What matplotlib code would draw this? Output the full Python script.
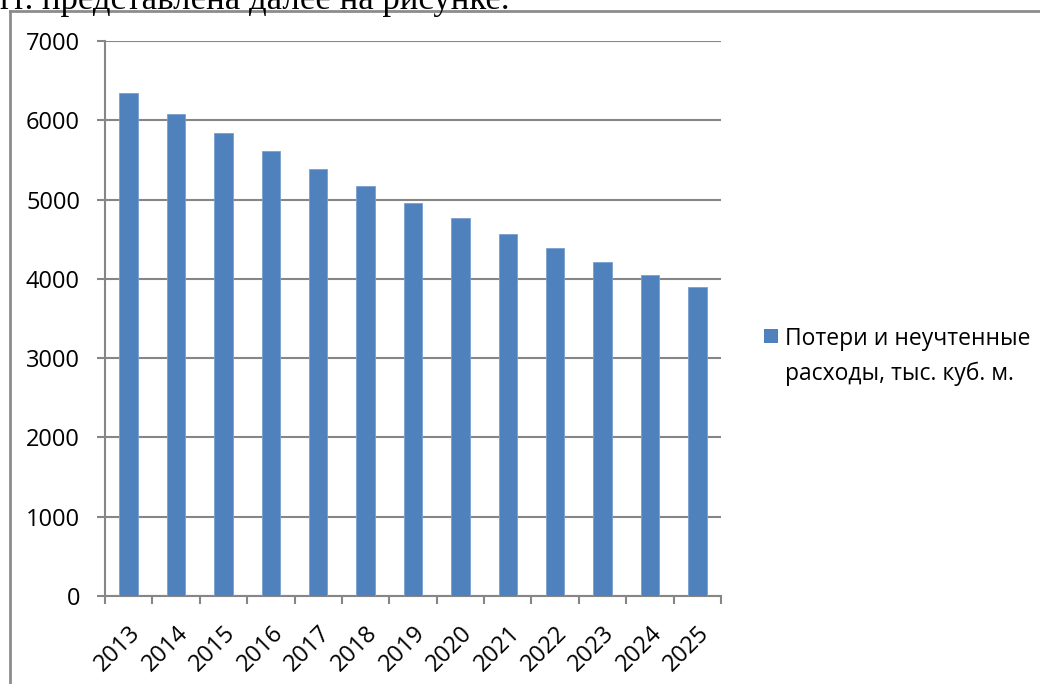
import matplotlib
matplotlib.use("Agg")
import matplotlib.pyplot as plt
from matplotlib.lines import Line2D
from matplotlib.patches import Rectangle

years = ["2013", "2014", "2015", "2016", "2017", "2018", "2019",
         "2020", "2021", "2022", "2023", "2024", "2025"]
losses = [6345, 6085, 5845, 5610, 5382, 5168, 4958,
          4764, 4567, 4391, 4214, 4050, 3891]
series_label = "Потери и неучтенные\nрасходы, тыс. куб. м."
y_ticks = [0, 1000, 2000, 3000, 4000, 5000, 6000, 7000]

W, H = 1040, 684
bar_color = "#4F81BD"
grid_color = "#868686"

fig = plt.figure(figsize=(W / 100, H / 100), dpi=100)
plt.rcParams["font.family"] = ["Open Sans", "DejaVu Sans"]

# page text cut off at the top (document context)
fig.text(0 / W, 1 - 9 / H, "гг. представлена далее на рисунке.",
         family=["Liberation Serif", "DejaVu Serif"], fontsize=25,
         ha="left", va="baseline", color="black")

# outer chart frame (runs past the right/bottom edges)
fig.add_artist(Line2D([10 / W, 10 / W], [1 - 11 / H, -0.05],
                      transform=fig.transFigure, color="#8c8c8c", lw=2))
fig.add_artist(Line2D([10 / W, 1.05], [1 - 11 / H, 1 - 11 / H],
                      transform=fig.transFigure, color="#8c8c8c", lw=2))

ax = fig.add_axes([105 / W, 1 - 596 / H, (721 - 105) / W, (596 - 41) / H])
x = list(range(len(years)))
ax.bar(x, losses, width=0.39, color=bar_color, edgecolor="#7aa0d0",
       linewidth=0.6, zorder=3)

ax.set_xlim(-0.5, len(years) - 0.5)
ax.set_ylim(0, 7000)
ax.set_yticks(y_ticks)
ax.set_yticklabels([str(v) for v in y_ticks], fontsize=17)
ax.yaxis.grid(True, color=grid_color, lw=1.5, zorder=0)
ax.tick_params(axis="y", length=6, width=1.5, color=grid_color, pad=12)

# category boundaries as ticks, labels centred between them
ax.set_xticks([i - 0.5 for i in range(len(years) + 1)])
ax.set_xticklabels([])
ax.set_xticks(x, minor=True)
ax.set_xticklabels(years, minor=True, rotation=45, ha="right",
                   rotation_mode="anchor", fontsize=17)
ax.tick_params(axis="x", which="major", length=6, width=1.5, color=grid_color)
ax.tick_params(axis="x", which="minor", length=0, pad=18)

for side in ["top", "right"]:
    ax.spines[side].set_visible(False)
for side in ["left", "bottom"]:
    ax.spines[side].set_color(grid_color)
    ax.spines[side].set_linewidth(1.5)

# legend on the right
fig.add_artist(Rectangle((764 / W, 1 - 343 / H), 14 / W, 14 / H,
                         transform=fig.transFigure, facecolor=bar_color,
                         edgecolor="none"))
fig.text(785 / W, 1 - 327 / H, series_label, fontsize=16.5, ha="left",
         va="top", linespacing=1.6, transform=fig.transFigure)

fig.savefig("out.png", dpi=100)
